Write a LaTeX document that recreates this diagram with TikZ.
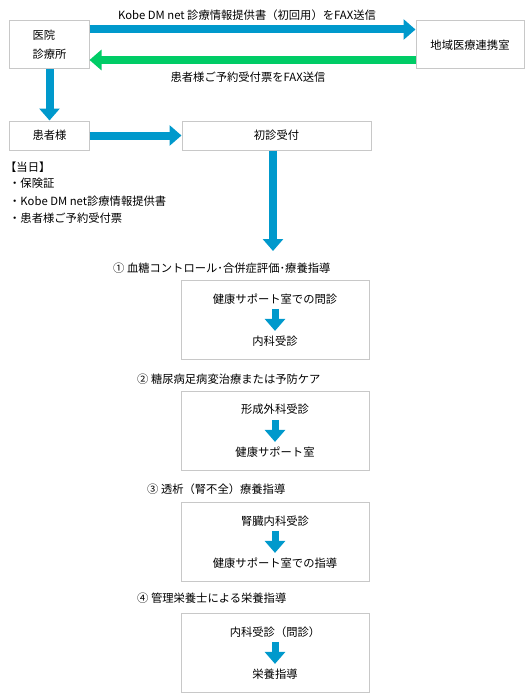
\documentclass[tikz,border=0pt]{standalone}
\usepackage{fontspec}
\setmainfont{Noto Sans CJK JP}
\usetikzlibrary{arrows.meta, positioning}

\definecolor{flowblue}{HTML}{0099CC}
\definecolor{flowgreen}{HTML}{00CC66}
\definecolor{framegray}{HTML}{C8C8C8}

\begin{document}
\begin{tikzpicture}[
    x=1bp, y=-1bp,
    font=\fontsize{11.3bp}{13bp}\selectfont,
    box/.style={rectangle, draw=framegray, line width=1bp, inner sep=0pt, text centered},
    panel/.style={box, minimum width=188bp, minimum height=79bp},
    itemtext/.style={inner sep=0pt, minimum height=20bp},
    heading/.style={anchor=west, inner sep=0pt},
    bigarrow/.style={line width=8bp, -{Triangle[length=12bp, width=20bp]}},
    smallarrow/.style={line width=7bp, draw=flowblue, -{Triangle[length=12bp, width=20bp]}},
]
\useasboundingbox (0,0) rectangle (530,700);

% Clinic <-> hospital
\node[box, minimum width=79bp, minimum height=48bp, align=left, font=\fontsize{11.3bp}{19bp}\selectfont] (clinic) at (49.5,45) {医院\\診療所};
\node[box, minimum width=108bp, minimum height=48bp] (renkei) at (470,45) {地域医療連携室};
\node (faxout) at (247,15) {Kobe DM net 診療情報提供書（初回用）をFAX送信};
\node (faxback) at (248,77) {患者様ご予約受付票をFAX送信};

% Patient and first visit
\node[box, minimum width=79bp, minimum height=29bp, below=51bp of clinic] (patient) {患者様};
\node[box, minimum width=189bp, minimum height=29bp, right=92bp of patient] (shoshin) {初診受付};
\coordinate (flowend) at (273,251);

% On the day
\node[heading] (dayhead) at (5,167) {【当日】};
\node[heading] (day1) at (9,183) {・保険証};
\node[heading] (day2) at (9,201) {・Kobe DM net診療情報提供書};
\node[heading] (day3) at (9,218) {・患者様ご予約受付票};

% Four courses
\node[heading] (head1) at (113,268) {① 血糖コントロール･合併症評価･療養指導};
\node[panel] (sec1) at (275,319.5) {};
\node[itemtext, below=9bp of sec1.north] (sec1a) {健康サポート室での問診};
\node[itemtext, below=22bp of sec1a] (sec1b) {内科受診};

\node[heading] (head2) at (137,379) {② 糖尿病足病変治療または予防ケア};
\node[panel, below=31bp of sec1] (sec2) {};
\node[itemtext, below=9bp of sec2.north] (sec2a) {形成外科受診};
\node[itemtext, below=22bp of sec2a] (sec2b) {健康サポート室};

\node[heading] (head3) at (147,489) {③ 透析（腎不全）療養指導};
\node[panel, below=31bp of sec2] (sec3) {};
\node[itemtext, below=9bp of sec3.north] (sec3a) {腎臓内科受診};
\node[itemtext, below=22bp of sec3a] (sec3b) {健康サポート室での指導};

\node[heading] (head4) at (137,598) {④ 管理栄養士による栄養指導};
\node[panel, below=31bp of sec3] (sec4) {};
\node[itemtext, below=9bp of sec4.north] (sec4a) {内科受診（問診）};
\node[itemtext, below=22bp of sec4a] (sec4b) {栄養指導};

% Arrows
\draw[bigarrow, flowblue] ([yshift=15.5bp]clinic.east) -- ([yshift=15.5bp]renkei.west);
\draw[bigarrow, flowgreen] ([yshift=-15bp]renkei.west) -- ([yshift=-15bp]clinic.east);
\draw[bigarrow, flowblue] (clinic) -- (patient);
\draw[bigarrow, flowblue] (patient) -- (shoshin);
\draw[bigarrow, flowblue] (shoshin.south -| flowend) -- (flowend);

\draw[smallarrow] (sec1a) -- (sec1b);
\draw[smallarrow] (sec2a) -- (sec2b);
\draw[smallarrow] (sec3a) -- (sec3b);
\draw[smallarrow] (sec4a) -- (sec4b);

\end{tikzpicture}
\end{document}
